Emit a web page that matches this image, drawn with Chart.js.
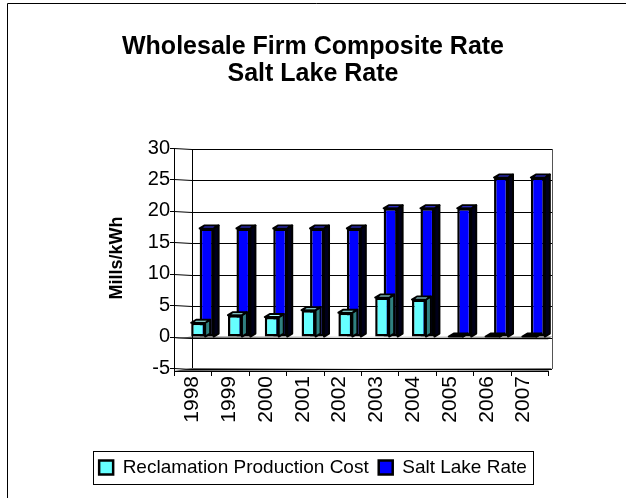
<!DOCTYPE html>
<html>
<head>
<meta charset="utf-8">
<script src="https://cdn.jsdelivr.net/npm/chart.js@4.4.0/dist/chart.umd.min.js"></script>
<style>
  html, body { margin: 0; padding: 0; background: #fff; }
  canvas { display: block; }
</style>
</head>
<body>
<canvas id="rateChart" width="626" height="498"></canvas>
<script>
const years = ['1998', '1999', '2000', '2001', '2002', '2003', '2004', '2005', '2006', '2007'];
const reclamationCost = [2.2, 3.4, 3.1, 4.2, 3.8, 6.2, 5.9, 0, 0, 0];
const saltLakeRate = [17.2, 17.2, 17.2, 17.2, 17.2, 20.4, 20.4, 20.4, 25.3, 25.3];
const yMin = -5;
const yMax = 30;
const yStep = 5;

Chart.defaults.font.family = '"Liberation Sans", Arial, sans-serif';
Chart.defaults.color = '#000';

// fake 3d: side and top faces for each bar
const dx = 5, dy = -3;
const sideColors = ['#2f8080', '#00001a'];
const topColors = ['#aaffff', '#3a3aff'];

const barDepth = {
  id: 'barDepth',
  afterDatasetDraw(chart, args) {
    const ctx = chart.ctx;
    ctx.save();
    ctx.lineWidth = 2;
    ctx.strokeStyle = '#000';
    ctx.lineJoin = 'round';
    args.meta.data.forEach(bar => {
      const { x, y, base, width } = bar.getProps(['x', 'y', 'base', 'width'], true);
      const l = x - width / 2, r = x + width / 2;
      const top = Math.min(y, base), bot = Math.max(y, base);
      ctx.beginPath();
      ctx.moveTo(r, top);
      ctx.lineTo(r + dx, top + dy);
      ctx.lineTo(r + dx, bot + dy);
      ctx.lineTo(r, bot);
      ctx.closePath();
      ctx.fillStyle = sideColors[args.index];
      ctx.fill();
      ctx.stroke();
      ctx.beginPath();
      ctx.moveTo(l, top);
      ctx.lineTo(l + dx, top + dy);
      ctx.lineTo(r + dx, top + dy);
      ctx.lineTo(r, top);
      ctx.closePath();
      ctx.fillStyle = bot - top < 1 ? '#000' : topColors[args.index];
      ctx.fill();
      ctx.stroke();
    });
    ctx.restore();
  }
};

// back wall grid, front axis, floor, legend frame and page border
const frame = {
  id: 'frame',
  beforeDatasetsDraw(chart) {
    const { ctx, chartArea: a, scales } = chart;
    const ys = scales.y, xs = scales.x;
    const fx = a.left - 10;
    const bx = a.left + 8;
    const yB = ys.getPixelForValue(yMin);
    const y0 = ys.getPixelForValue(0);
    ctx.save();
    // floor band at the bottom
    let g = ctx.createLinearGradient(fx, 0, a.right, 0);
    g.addColorStop(0, '#555');
    g.addColorStop(0.5, '#eee');
    g.addColorStop(1, '#777');
    ctx.fillStyle = g;
    ctx.beginPath();
    ctx.moveTo(fx, yB + 3);
    ctx.lineTo(bx, yB);
    ctx.lineTo(a.right, yB);
    ctx.lineTo(a.right - 4, yB + 3);
    ctx.closePath();
    ctx.fill();
    // zero plane
    ctx.beginPath();
    ctx.moveTo(fx, y0 + 2);
    ctx.lineTo(bx, y0);
    ctx.lineTo(a.right, y0);
    ctx.lineTo(a.right - 4, y0 + 3);
    ctx.closePath();
    ctx.fill();
    ctx.strokeStyle = '#000';
    ctx.lineWidth = 1;
    ctx.beginPath();
    // back wall grid lines and links to the front axis
    for (let v = yMin; v <= yMax; v += yStep) {
      const py = Math.round(ys.getPixelForValue(v)) + 0.5;
      ctx.moveTo(fx - 4, py);
      ctx.lineTo(fx, py);
      ctx.lineTo(bx, py + 1);
      ctx.lineTo(a.right, py + 1);
    }
    // front value axis
    ctx.moveTo(fx + 0.5, ys.getPixelForValue(yMax));
    ctx.lineTo(fx + 0.5, yB + 4);
    // back wall left edge
    ctx.moveTo(bx + 0.5, ys.getPixelForValue(yMax) + 1);
    ctx.lineTo(bx + 0.5, yB);
    // front category axis
    ctx.moveTo(fx, Math.round(yB) + 3.5);
    ctx.lineTo(a.right - 4, Math.round(yB) + 3.5);
    for (let i = 0; i <= years.length; i++) {
      const px = Math.round(xs.getPixelForValue(i - 0.5) - 10 * (1 - i / years.length) - 4 * i / years.length) + 0.5;
      ctx.moveTo(px, yB + 3);
      ctx.lineTo(px, yB + 8);
    }
    ctx.stroke();
    // right edge of the back wall
    ctx.strokeStyle = '#555';
    ctx.beginPath();
    ctx.moveTo(Math.round(a.right) + 0.5, a.top + 1);
    ctx.lineTo(Math.round(a.right) + 0.5, yB + 1);
    ctx.stroke();
    ctx.restore();
  },
  afterDraw(chart) {
    const ctx = chart.ctx;
    const hb = chart.legend.legendHitBoxes;
    const l = Math.min(...hb.map(b => b.left)) - 6;
    const r = Math.max(...hb.map(b => b.left + b.width)) + 6;
    const t = Math.min(...hb.map(b => b.top)) - 7;
    const b = Math.max(...hb.map(b => b.top + b.height)) + 7;
    ctx.save();
    ctx.strokeStyle = '#000';
    ctx.lineWidth = 1;
    ctx.strokeRect(Math.round(l) + 0.5, Math.round(t) + 0.5, Math.round(r - l), Math.round(b - t));
    ctx.beginPath();
    ctx.moveTo(7.5, 498);
    ctx.lineTo(7.5, 3.5);
    ctx.lineTo(626, 3.5);
    ctx.stroke();
    ctx.restore();
  }
};

new Chart(document.getElementById('rateChart'), {
  type: 'bar',
  data: {
    labels: years,
    datasets: [
      {
        label: 'Reclamation Production Cost',
        data: reclamationCost,
        backgroundColor: '#66ffff',
        borderColor: '#000',
        borderWidth: 2.5,
        borderSkipped: false
      },
      {
        label: 'Salt Lake Rate',
        data: saltLakeRate,
        backgroundColor: '#0000ff',
        borderColor: '#000',
        borderWidth: 2.5,
        borderSkipped: false
      }
    ]
  },
  options: {
    responsive: false,
    animation: false,
    events: [],
    datasets: {
      bar: { categoryPercentage: 0.46, barPercentage: 1.65 }
    },
    layout: { padding: { left: 10, right: 10, top: 0, bottom: 11 } },
    plugins: {
      title: {
        display: true,
        text: ['Wholesale Firm Composite Rate', 'Salt Lake Rate'],
        font: { size: 25, weight: 'bold', lineHeight: 1.1 },
        color: '#000',
        padding: { top: 33, bottom: 60 }
      },
      legend: {
        position: 'bottom',
        labels: {
          boxWidth: 14,
          boxHeight: 14,
          padding: 10,
          font: { size: 19 },
          color: '#000'
        }
      },
      tooltip: { enabled: false }
    },
    scales: {
      x: {
        grid: { display: false, drawTicks: false },
        border: { display: false },
        ticks: {
          minRotation: 90,
          maxRotation: 90,
          labelOffset: -10,
          padding: 8,
          font: { size: 21 }
        },
        afterFit: s => { s.height = 80; }
      },
      y: {
        min: yMin,
        max: yMax,
        ticks: { stepSize: yStep, padding: 14, font: { size: 20 } },
        grid: { display: false, drawTicks: false },
        border: { display: false },
        title: {
          display: true,
          text: 'Mills/kWh',
          font: { size: 18, weight: 'bold' },
          padding: { top: 96, bottom: 0 }
        },
        afterFit: s => { s.width = 174; }
      },
      y2: {
        position: 'right',
        grid: { display: false, drawTicks: false },
        border: { display: false },
        ticks: { display: false },
        afterFit: s => { s.width = 64; }
      }
    }
  },
  plugins: [barDepth, frame]
});
</script>
</body>
</html>
